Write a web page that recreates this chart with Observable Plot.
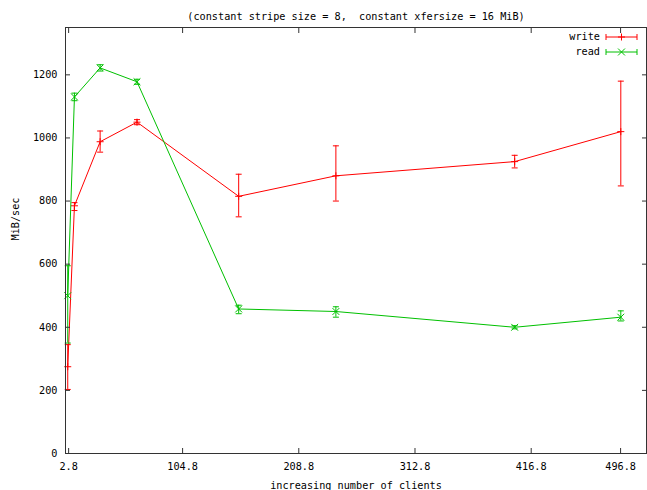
<!DOCTYPE html>
<html>
<head>
<meta charset="utf-8">
<script src="https://cdn.jsdelivr.net/npm/d3@7"></script>
<script src="https://cdn.jsdelivr.net/npm/@observablehq/plot@0.6"></script>
<style>
  html, body { margin: 0; padding: 0; background: #fff; }
</style>
</head>
<body>
<div id="chart"></div>
<script>
// ---- data ----
const clients   = [2, 8, 31, 64, 155, 242, 402, 497];
const writeMean = [275, 785, 988, 1050, 815, 880, 925, 1020];
const writeLo   = [203, 770, 955, 1042, 750, 800, 905, 848];
const writeHi   = [345, 795, 1022, 1058, 885, 975, 945, 1180];
const readMean  = [500, 1130, 1222, 1178, 458, 450, 400, 432];
const readLo    = [350, 1118, 1212, 1170, 443, 432, 395, 420];
const readHi    = [595, 1142, 1232, 1186, 470, 465, 405, 452];

const xTicks = [2.8, 104.8, 208.8, 312.8, 416.8, 496.8];
const yTicks = [0, 200, 400, 600, 800, 1000, 1200];

const title  = "(constant stripe size = 8,  constant xfersize = 16 MiB)";
const xLabel = "increasing number of clients";
const yLabel = "MiB/sec";

const RED = "#ff0000", GREEN = "#00c000", AXIS = "#333333";

const series = [
  {name: "write", color: RED, symbol: "plus", mean: writeMean, lo: writeLo, hi: writeHi},
  {name: "read", color: GREEN, symbol: "times", mean: readMean, lo: readLo, hi: readHi}
];
const rows = series.flatMap(s => clients.map((c, i) => ({
  series: s.name, color: s.color, symbol: s.symbol, x: c, y: s.mean[i], lo: s.lo[i], hi: s.hi[i]
})));

const capSymbol = {draw(ctx) { ctx.moveTo(-3, 0); ctx.lineTo(3, 0); }};

const marks = [];
for (const s of series) {
  const d = rows.filter(r => r.series === s.name);
  marks.push(Plot.line(d, {x: "x", y: "y", stroke: s.color, strokeWidth: 1}));
  marks.push(Plot.ruleX(d, {x: "x", y1: "lo", y2: "hi", stroke: s.color, strokeWidth: 1}));
  marks.push(Plot.dot(d, {x: "x", y: "lo", symbol: capSymbol, stroke: s.color, fill: "none", strokeWidth: 1}));
  marks.push(Plot.dot(d, {x: "x", y: "hi", symbol: capSymbol, stroke: s.color, fill: "none", strokeWidth: 1}));
  marks.push(Plot.dot(d, {x: "x", y: "y", symbol: s.symbol, stroke: s.color, fill: "none", strokeWidth: 1,
    r: s.symbol === "plus" ? 2.4 : 3.2}));
}

const noText = () => "";

const chart = Plot.plot({
  width: 647,
  height: 490,
  marginTop: 27,
  marginBottom: 37,
  marginLeft: 65,
  marginRight: 1,
  style: {fontFamily: "'DejaVu Sans Mono', monospace", fontSize: "10.2px", color: "#000", background: "#fff"},
  x: {type: "linear", domain: [0, 520]},
  y: {type: "linear", domain: [0, 1350]},
  marks: [
    ...marks,
    Plot.frame({stroke: AXIS, strokeWidth: 1}),
    Plot.axisX(xTicks, {anchor: "bottom", tickSize: 5, dy: -5, stroke: AXIS, tickFormat: noText, label: null}),
    Plot.axisX(xTicks, {anchor: "top", tickSize: 5, dy: 5, stroke: AXIS, tickFormat: noText, label: null}),
    Plot.axisY(yTicks, {anchor: "left", tickSize: 5, dx: 5, stroke: AXIS, tickFormat: noText, label: null}),
    Plot.axisY(yTicks, {anchor: "right", tickSize: 5, dx: -5, stroke: AXIS, tickFormat: noText, label: null}),
    Plot.axisX(xTicks, {anchor: "bottom", tickSize: 0, tickPadding: 9, tickFormat: d => d.toFixed(1), fill: "#000", label: null}),
    Plot.axisY(yTicks, {anchor: "left", tickSize: 0, tickPadding: 8, tickFormat: d => String(d), fill: "#000", label: null}),
    Plot.text([title], {frameAnchor: "top", dy: -15, text: d => d, fill: "#000"}),
    Plot.text([xLabel], {frameAnchor: "bottom", dy: 35, text: d => d, fill: "#000"}),
    Plot.text([yLabel], {frameAnchor: "left", dx: -50, rotate: -90, text: d => d, fill: "#000"})
  ]
});

document.getElementById("chart").appendChild(chart);

// ---- key (top right, gnuplot style) ----
const svg = d3.select(chart);
const key = svg.append("g").attr("font-family", "'DejaVu Sans Mono', monospace").attr("font-size", 10.2);
series.forEach((s, i) => {
  const y = 37 + i * 15;
  const x1 = 606, x2 = 637, xm = (x1 + x2) / 2;
  key.append("text").attr("x", 600).attr("y", y).attr("dy", "0.32em")
    .attr("text-anchor", "end").attr("fill", "#000").text(s.name);
  const g = key.append("g").attr("stroke", s.color).attr("fill", "none").attr("stroke-width", 1);
  g.append("line").attr("x1", x1).attr("x2", x2).attr("y1", y).attr("y2", y);
  g.append("line").attr("x1", x1).attr("x2", x1).attr("y1", y - 3).attr("y2", y + 3);
  g.append("line").attr("x1", x2).attr("x2", x2).attr("y1", y - 3).attr("y2", y + 3);
  const sym = s.symbol === "plus" ? d3.symbolPlus : d3.symbolTimes;
  g.append("path").attr("transform", `translate(${xm},${y})`)
    .attr("d", d3.symbol(sym, s.symbol === "plus" ? 18 : 33)());
});
</script>
</body>
</html>
